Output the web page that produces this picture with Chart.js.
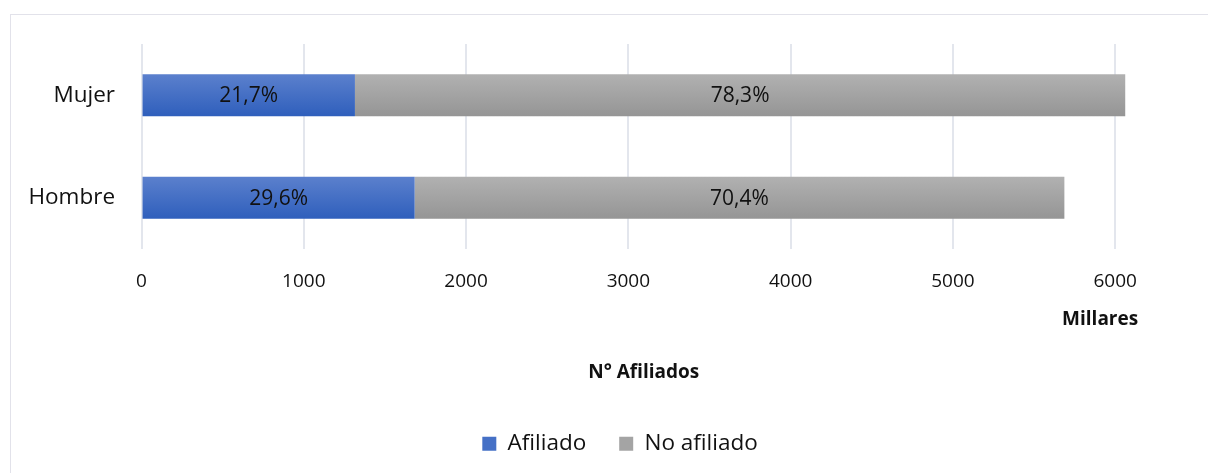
<!DOCTYPE html>
<html>
<head>
<meta charset="utf-8">
<script src="https://cdn.jsdelivr.net/npm/chart.js@4"></script>
<style>
  html, body { margin:0; padding:0; background:#fff; overflow:hidden; }
  #marco { position:absolute; left:10px; top:14px; width:1300px; height:600px; border:1px solid #e2e2ea; }
  #caja { position:absolute; left:0; top:0; width:1208px; height:473px; }
</style>
</head>
<body>
<div id="marco"></div>
<div id="caja"><canvas id="myChart"></canvas></div>
<script>
// datos (en millares)
const categorias = ['Mujer', 'Hombre']
const afiliado = [1315, 1683]
const noAfiliado = [4747, 4004]
const pctAfiliado = ['21,7%', '29,6%']
const pctNoAfiliado = ['78,3%', '70,4%']
const ticksX = [0, 1000, 2000, 3000, 4000, 5000, 6000]

const fuente = "'Open Sans'"
const coloresLeyenda = ['#4570c6', '#a4a4a4']

// degradado vertical en cada barra
function degradado(arriba, abajo){
    return function(ctx){
        const chart = ctx.chart
        if(!chart.chartArea || !chart.scales.y) return abajo
        const y = chart.scales.y.getPixelForValue(ctx.dataIndex)
        const alto = chart.chartArea.height / categorias.length * 0.41
        const g = chart.ctx.createLinearGradient(0, y - alto/2, 0, y + alto/2)
        g.addColorStop(0, arriba)
        g.addColorStop(1, abajo)
        return g
    }
}

// etiquetas de porcentaje dentro de las barras + texto "Millares"
const etiquetas = {
    id: 'etiquetas',
    afterDatasetsDraw(chart){
        const c = chart.ctx
        const textos = [pctAfiliado, pctNoAfiliado]
        c.save()
        c.font = '21px ' + fuente
        c.fillStyle = '#111'
        c.textAlign = 'center'
        c.textBaseline = 'middle'
        chart.data.datasets.forEach((ds, i) => {
            chart.getDatasetMeta(i).data.forEach((barra, j) => {
                const p = barra.getCenterPoint()
                c.fillText(textos[i][j], p.x, p.y + 1)
            })
        })
        // unidad de visualizacion del eje
        const sx = chart.scales.x
        c.font = 'bold 19px ' + fuente
        c.textAlign = 'right'
        c.fillText('Millares', sx.getPixelForValue(6000) + 23, sx.top + 71)
        c.restore()
    }
}

// la leyenda va algo mas a la derecha que el centro del lienzo
const moverLeyenda = {
    id: 'moverLeyenda',
    afterLayout(chart){
        chart.legend.left += 46
        chart.legend.right += 46
    }
}

function grafico(){
    const ctx = document.getElementById('myChart')

    new Chart(ctx, {
        type: 'bar',
        data: {
            labels: categorias,
            datasets: [{
                label: 'Afiliado',
                data: afiliado,
                backgroundColor: degradado('#5b80cd', '#2f5fbc'),
                barPercentage: 0.41,
                categoryPercentage: 1
            },
            {
                label: 'No afiliado',
                data: noAfiliado,
                backgroundColor: degradado('#b1b1b1', '#959595'),
                barPercentage: 0.41,
                categoryPercentage: 1
            }]
        },
        options: {
            indexAxis: 'y',
            responsive: true,
            maintainAspectRatio: false,
            animation: false,
            layout: { padding: { top: 44, right: 62, left: 2, bottom: 8 } },
            scales: {
                x: {
                    stacked: true,
                    min: 0,
                    max: 6190,
                    afterBuildTicks(scale){
                        scale.ticks = ticksX.map(v => ({ value: v }))
                    },
                    grid: { color: '#e3e6ed', lineWidth: 2, drawTicks: false },
                    border: { display: false },
                    ticks: {
                        color: '#111',
                        font: { family: fuente, size: 19 },
                        padding: 21,
                        callback: v => String(v)
                    },
                    title: {
                        display: true,
                        text: 'N° Afiliados',
                        color: '#111',
                        font: { family: fuente, size: 19, weight: 'bold' },
                        padding: { top: 47, bottom: 16 }
                    }
                },
                y: {
                    stacked: true,
                    grid: { display: false, drawTicks: false },
                    border: { display: false },
                    ticks: { color: '#111', font: { family: fuente, size: 22.5 }, padding: 26.5 }
                }
            },
            plugins: {
                legend: {
                    position: 'bottom',
                    labels: {
                        color: '#111',
                        font: { family: fuente, size: 22.5 },
                        boxWidth: 14,
                        boxHeight: 14,
                        padding: 33,
                        useBorderRadius: false,
                        generateLabels(chart){
                            const items = Chart.defaults.plugins.legend.labels.generateLabels(chart)
                            items.forEach((it, i) => {
                                it.fillStyle = coloresLeyenda[i]
                                it.strokeStyle = coloresLeyenda[i]
                                it.lineWidth = 0
                            })
                            return items
                        }
                    }
                },
                tooltip: { enabled: false }
            }
        },
        plugins: [etiquetas, moverLeyenda]
    })
}

// esperar a que la fuente este lista antes de medir textos
Promise.all([
    document.fonts.load("22.5px 'Open Sans'"),
    document.fonts.load("bold 19px 'Open Sans'")
]).then(grafico, grafico)
</script>
</body>
</html>
